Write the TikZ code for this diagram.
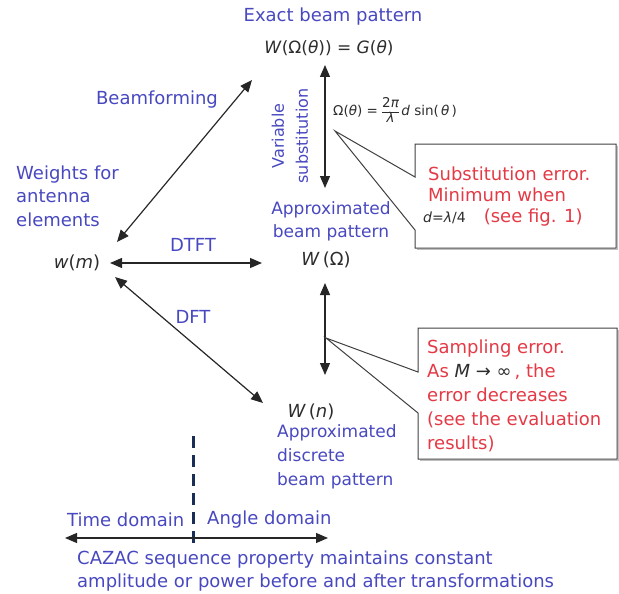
\documentclass[tikz,border=0pt]{standalone}
\usepackage{fontspec}
\setmainfont{DejaVu Sans}[ItalicFont={DejaVu Sans Oblique}]
\usetikzlibrary{arrows.meta}
\definecolor{tblue}{RGB}{72,72,192}
\definecolor{tred}{RGB}{228,58,70}
\definecolor{navyc}{RGB}{25,45,85}
\definecolor{mathc}{RGB}{45,45,45}
\newcommand{\myfrac}[2]{{\renewcommand{\arraystretch}{0.85}\setlength{\arrayrulewidth}{0.5pt}\begin{tabular}[c]{@{}c@{}}#1\\\hline #2\end{tabular}}}
\begin{document}
\begin{tikzpicture}[x=1pt,y=-1pt,
  lbl/.style={text=tblue, font=\fontsize{18}{23.5}\selectfont, inner sep=0pt},
  errtxt/.style={text=tred, font=\fontsize{18}{21}\selectfont, inner sep=0pt, align=left, anchor=west},
  mth/.style={text=mathc, font=\fontsize{18}{20}\selectfont, inner sep=0pt},
  dbl/.style={{Triangle[length=12pt,width=10pt]}-{Triangle[length=12pt,width=10pt]}, line width=1.2pt, draw=black!85},
  callout/.style={draw=black!75, line width=1pt, fill=white},
  shadowc/.style={draw=black!25, line width=1.5pt},
]
\useasboundingbox (0,0) rectangle (619,594);

% connector end points
\coordinate (bfA) at (117,242);
\coordinate (bfB) at (252,80);
\coordinate (vsA) at (325,65);
\coordinate (vsB) at (325,188);
\coordinate (dtA) at (110,263);
\coordinate (dtB) at (262,263);
\coordinate (smA) at (325,283);
\coordinate (smB) at (325,375);
\coordinate (dfA) at (115,277);
\coordinate (dfB) at (263,403);

\draw[dbl] (bfA) -- (bfB);
\draw[dbl] (vsA) -- (vsB);
\draw[dbl] (dtA) -- (dtB);
\draw[dbl] (smA) -- (smB);
\draw[dbl] (dfA) -- (dfB);

% main nodes
\node[lbl] (exact) at (333,17) {Exact beam pattern};
\node[mth, font=\fontsize{17}{20}\selectfont] (G) at (329,48) {\textit{W}(Ω(\textit{θ})) = \textit{G}(\textit{θ})};
\node[lbl, align=left, anchor=west] (weights) at (16,196) {Weights for\\antenna\\elements};
\node[mth] (wm) at (77,263) {\textit{w}(\textit{m})};
\node[lbl, align=center, font=\fontsize{17}{23}\selectfont] (approx) at (331,221.5) {Approximated\\beam pattern};
\node[mth] (Wo) at (326,260) {\textit{W}\,(Ω)};
\node[mth] (Wn) at (311,412) {\textit{W}\,(\textit{n})};
\node[lbl, align=left, anchor=west, font=\fontsize{17}{24}\selectfont] (approxd) at (277,457) {Approximated\\discrete\\beam pattern};

% labels
\node[lbl] (bf) at (157,100) {Beamforming};
\node[lbl, rotate=90, align=center, font=\fontsize{16}{24}\selectfont] (vs) at (290,136) {Variable\\substitution};
\node[mth, font=\fontsize{13.5}{15}\selectfont, anchor=west] (form) at (333,112)
  {Ω(\textit{θ}) = \myfrac{2\textit{π}}{\textit{λ}}\,\textit{d} sin(\,\textit{θ}\,)};
\node[lbl] (dtft) at (193,245) {DTFT};
\node[lbl] (dft) at (193,317) {DFT};

% callout 1
\coordinate (ap1) at (335,131);
\draw[shadowc] (617.5,146) -- (617.5,249.5) -- (417,249.5);
\draw[callout] (415,144) -- (616,144) -- (616,248) -- (415,248) -- (415,230) -- (ap1) -- (415,177) -- cycle;
\node[errtxt] (err1) at (428,197) {Substitution error.\\Minimum when\\\hspace*{-5pt}{\color{mathc}\fontsize{14}{15}\selectfont\textit{d}=\textit{λ}/4}\quad(see fig. 1)};

% callout 2
\coordinate (ap2) at (326,338);
\draw[shadowc] (618.5,330) -- (618.5,460.5) -- (420,460.5);
\draw[callout] (418,328) -- (617,328) -- (617,459) -- (418,459) -- (418,413) -- (ap2) -- (418,372) -- cycle;
\node[errtxt, font=\fontsize{18}{24}\selectfont] (err2) at (427,395.5) {Sampling error.\\As {\color{mathc}\textit{M} → ∞}\,, the\\error decreases\\(see the evaluation\\results)};

% domains
\coordinate (dsA) at (193,436);
\coordinate (dsB) at (193,550);
\draw[navyc, line width=3pt, dash pattern=on 12pt off 7pt] (dsA) -- (dsB);
\coordinate (tdA) at (65,538);
\coordinate (tdB) at (328,538);
\draw[dbl] (tdA) -- (tdB);
\node[lbl, anchor=west, font=\fontsize{18}{20}\selectfont] (time) at (67,520) {Time domain};
\node[lbl, anchor=west, font=\fontsize{18}{20}\selectfont] (angle) at (207,520) {Angle domain};
\node[lbl, anchor=west, align=left, font=\fontsize{18}{23}\selectfont] (cazac) at (77,571.5)
  {CAZAC sequence property maintains constant\\amplitude or power before and after transformations};
\end{tikzpicture}
\end{document}
